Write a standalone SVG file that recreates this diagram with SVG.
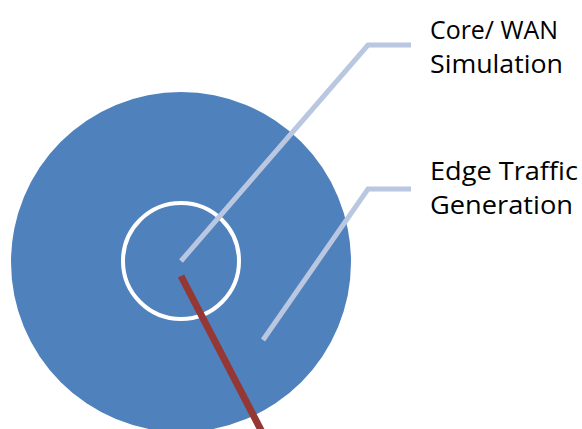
<svg xmlns="http://www.w3.org/2000/svg" width="582" height="429" viewBox="0 0 582 429">
<style>
.lbl{font-family:"Open Sans","Liberation Sans",sans-serif;font-size:25px;fill:#000}
.call{fill:none;stroke:#B9C7E0;stroke-width:5}
</style>
<rect width="582" height="429" fill="#fff"/>
<g id="outer"><circle cx="181" cy="262" r="170" fill="#4F81BD"/></g>
<g id="inner"><circle cx="181" cy="261" r="58" fill="none" stroke="#fff" stroke-width="4"/></g>
<g id="connectors">
<polyline class="call" points="181,261 368,45 411,45"/>
<polyline class="call" points="263,340 368,189 411,189"/>
<line x1="181" y1="276" x2="262" y2="432" stroke="#953735" stroke-width="7"/>
</g>
<g id="label-core">
<text class="lbl" x="430" y="39" textLength="128" lengthAdjust="spacingAndGlyphs">Core/ WAN</text>
<text class="lbl" x="430" y="73" textLength="133" lengthAdjust="spacingAndGlyphs">Simulation</text>
</g>
<g id="label-edge">
<text class="lbl" x="430" y="180" textLength="148" lengthAdjust="spacingAndGlyphs">Edge Traffic</text>
<text class="lbl" x="430" y="214" textLength="143" lengthAdjust="spacingAndGlyphs">Generation</text>
</g>
</svg>
